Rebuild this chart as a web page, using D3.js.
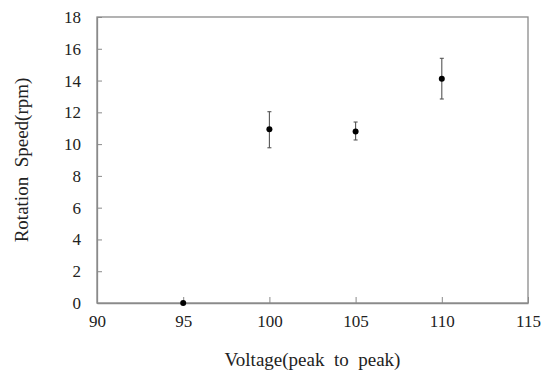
<!DOCTYPE html>
<html><head><meta charset="utf-8">
<script src="https://cdn.jsdelivr.net/npm/d3@7"></script>
<style>body{margin:0;background:#fff}svg{display:block}</style>
</head><body>
<script>
const voltages = [95, 100, 105, 110];
const speeds = [0, 10.93, 10.8, 14.12];
const errUpper = [0, 12.04, 11.39, 15.4];
const errLower = [0, 9.77, 10.26, 12.84];
const xTicks = [90, 95, 100, 105, 110, 115];
const yTicks = [0, 2, 4, 6, 8, 10, 12, 14, 16, 18];

const W = 546, H = 376;
const m = {left: 97, right: 18, top: 17, bottom: 73};
const SERIF = "font-family:'Liberation Serif',serif !important;";
const svg = d3.select("body").append("svg").attr("width", W).attr("height", H);

const x = d3.scaleLinear().domain([90, 115]).range([m.left, W - m.right]);
const y = d3.scaleLinear().domain([0, 18]).range([H - m.bottom, m.top]);
const axisColor = "#8a8a8a";

svg.append("rect").attr("x", x(90)).attr("y", y(18)).attr("width", x(115) - x(90)).attr("height", y(0) - y(18))
  .attr("fill", "none").attr("stroke", axisColor).attr("stroke-width", 1.3);

const xa = svg.append("g").attr("transform", `translate(0,${y(0)})`)
  .call(d3.axisBottom(x).tickValues(xTicks).tickSizeInner(-6).tickSizeOuter(0).tickPadding(10));
xa.attr("font-family", "Liberation Serif").attr("font-size", 17);
xa.select(".domain").attr("stroke", axisColor).attr("stroke-width", 1.3);
xa.selectAll(".tick line").attr("stroke", axisColor);
xa.selectAll(".tick text").attr("style", SERIF + "font-size:17px").attr("fill", "#222").attr("dy", "0.8em");

const ya = svg.append("g").attr("transform", `translate(${x(90)},0)`)
  .call(d3.axisLeft(y).tickValues(yTicks).tickSizeInner(-5).tickSizeOuter(0).tickPadding(16));
ya.attr("font-family", "Liberation Serif").attr("font-size", 17);
ya.select(".domain").attr("stroke", axisColor).attr("stroke-width", 1.3);
ya.selectAll(".tick line").attr("stroke", axisColor);
ya.selectAll(".tick text").attr("style", SERIF + "font-size:17px").attr("fill", "#222");

const data = voltages.map((v, i) => ({v, s: speeds[i], hi: errUpper[i], lo: errLower[i]}));
const eb = svg.append("g").selectAll("g").data(data.filter(d => d.hi !== d.lo)).join("g").attr("stroke", "#555").attr("stroke-width", 1.1);
eb.append("line").attr("x1", d => x(d.v)).attr("x2", d => x(d.v)).attr("y1", d => y(d.hi)).attr("y2", d => y(d.lo));
eb.append("line").attr("x1", d => x(d.v) - 2).attr("x2", d => x(d.v) + 2).attr("y1", d => y(d.hi)).attr("y2", d => y(d.hi));
eb.append("line").attr("x1", d => x(d.v) - 2).attr("x2", d => x(d.v) + 2).attr("y1", d => y(d.lo)).attr("y2", d => y(d.lo));

svg.append("g").selectAll("circle").data(data).join("circle")
  .attr("cx", d => x(d.v)).attr("cy", d => y(d.s)).attr("r", 3).attr("fill", "#000");

svg.append("text").attr("x", (x(90) + x(115)) / 2).attr("y", 366).attr("text-anchor", "middle")
  .attr("style", SERIF + "font-size:19px;white-space:pre").attr("fill", "#222")
  .text("Voltage(peak  to  peak)");
svg.append("text").attr("transform", `translate(28,${(y(0) + y(18)) / 2}) rotate(-90)`).attr("text-anchor", "middle")
  .attr("style", SERIF + "font-size:19px;white-space:pre").attr("fill", "#222")
  .text("Rotation  Speed(rpm)");
</script>
</body></html>
